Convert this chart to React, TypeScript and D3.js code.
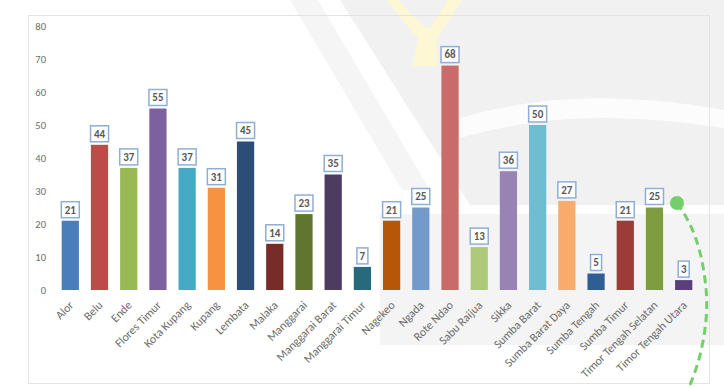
import React from "react";
import * as d3 from "d3";

const categories = [
  "Alor", "Belu", "Ende", "Flores Timur", "Kota Kupang", "Kupang", "Lembata",
  "Malaka", "Manggarai", "Manggarai Barat", "Manggarai Timur", "Nagekeo", "Ngada",
  "Rote Ndao", "Sabu Raijua", "Sikka", "Sumba Barat", "Sumba  Barat Daya",
  "Sumba Tengah", "Sumba Timur", "Timor Tengah Selatan", "Timor Tengah  Utara",
];
const values = [21, 44, 37, 55, 37, 31, 45, 14, 23, 35, 7, 21, 25, 68, 13, 36, 50, 27, 5, 21, 25, 3];
const colors = [
  "#4a7ebb", "#be4b48", "#98b954", "#7d60a0", "#46aac5", "#f69240", "#2c4d75",
  "#772c2a", "#5f7530", "#4d3b62", "#276a7c", "#b65708", "#729aca", "#c96b69",
  "#afc97a", "#9983b5", "#6fbdd1", "#f9ab6b", "#2f5e95", "#9e3b38", "#7e9d40", "#5b3f7c",
];
const yTicks = [0, 10, 20, 30, 40, 50, 60, 70, 80];

export default function App() {
  const W = 724, H = 387;
  const x = d3.scaleBand<string>().domain(categories).range([55.7, 698.3]).paddingInner(0.41).paddingOuter(0.205);
  const y = d3.scaleLinear().domain([0, 80]).range([290, 26]);
  const font = "Carlito, 'Liberation Sans', Arial, sans-serif";
  const arc = d3.line<[number, number]>().curve(d3.curveBasis)([
    [677, 203], [690, 222], [701, 252], [707, 290], [707, 320], [700, 360], [688, 390],
  ]);
  return (
    <svg width={W} height={H} style={{ position: "absolute", left: 0, top: 0, background: "#fff" }}>
      {/* faint watermark approximation */}
      <g>
        <polygon points="340,0 724,0 724,205 470,205" fill="#000" opacity={0.055} />
        <polygon points="290,0 318,0 430,190 402,190" fill="#000" opacity={0.04} />
        <path d="M460,118 C540,95 620,92 724,110 L724,128 C620,112 540,115 460,138 Z" fill="#fff" opacity={0.8} />
        <polygon points="380,214 724,214 724,345 380,345" fill="#000" opacity={0.045} />
        <path
          d="M413,66 L438,66 L436,40 L462,0 L448,0 L430,28 L425,28 L398,0 L386,0 L418,38 Z"
          fill="#fff8cf"
          opacity={0.85}
        />
      </g>
      <rect x={28.5} y={15.5} width={681} height={368} fill="none" stroke="#e3e3e3" />
      {yTicks.map((t) => (
        <text key={t} x={46} y={y(t)} dy="0.35em" textAnchor="end" fontSize={10.5} fill="#6b6b6b" fontFamily={font}>
          {t}
        </text>
      ))}
      {categories.map((c, i) => {
        const bx = x(c)!;
        const bw = x.bandwidth();
        const cx = bx + bw / 2;
        const top = y(values[i]);
        const label = String(values[i]);
        const boxW = label.length === 1 ? 11 : 18;
        const boxH = 16;
        return (
          <g key={c}>
            <rect x={bx} y={top} width={bw} height={y(0) - top} fill={colors[i]} />
            <rect x={cx - boxW / 2} y={top - boxH - 3} width={boxW} height={boxH} fill="#fff" stroke="#8eaed6" strokeWidth={1.5} />
            <text x={cx} y={top - 3 - boxH / 2} dy="0.35em" textAnchor="middle" fontSize={11} fontWeight={600} fill="#595959" fontFamily={font}>
              {label}
            </text>
            <text
              transform={`translate(${cx + 1},${303}) rotate(-45)`}
              textAnchor="end"
              dy="0.35em"
              fontSize={11.8}
              fill="#6b6b6b"
              fontFamily={font}
            >
              {c}
            </text>
          </g>
        );
      })}
      <path d={arc ?? ""} fill="none" stroke="#72cf6a" strokeWidth={3} strokeDasharray="8 5" />
      <circle cx={677} cy={203} r={7} fill="#72cf6a" />
    </svg>
  );
}
